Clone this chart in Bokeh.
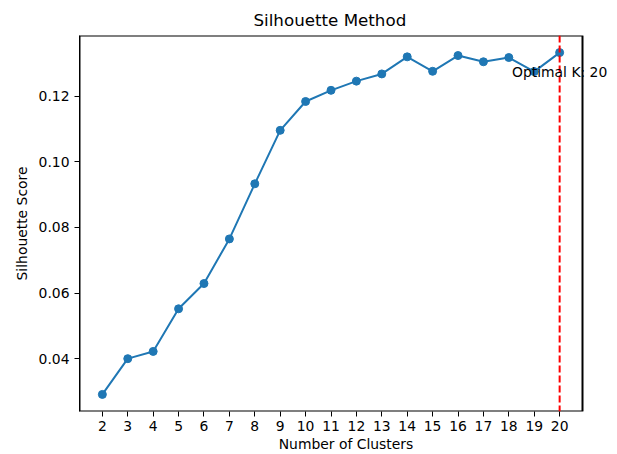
from bokeh.plotting import figure
from bokeh.models import Range1d, FixedTicker, NumeralTickFormatter, Span, Label, BoxAnnotation
from bokeh.embed import file_html
from bokeh.resources import INLINE

n_clusters = list(range(2, 21))
scores = [0.0291, 0.0400, 0.0422, 0.0552, 0.0629, 0.0765, 0.0933, 0.1096, 0.1184,
          0.1218, 0.1246, 0.1268, 0.1320, 0.1276, 0.1324, 0.1305, 0.1318, 0.1275, 0.1333]
y_ticks = [0.04, 0.06, 0.08, 0.10, 0.12]
optimal_k = 20
optimal_label = "Optimal K: 20"

FONT = "DejaVu Sans"
BLUE = "#1f77b4"
FS = "13.9px"

W, H = 617, 454
LEFT, RIGHT_AXES, RIGHT_FRAME, TOP, BOTTOM = 79, 35, 5, 35, 43

xspan = max(n_clusters) - min(n_clusters)
yspan = max(scores) - min(scores)
x_lo = min(n_clusters) - 0.05 * xspan
x_hi = max(n_clusters) + 0.05 * xspan
# frame is widened to the right so the annotation text is not clipped;
# keep the same scale as an axes box ending at x_hi
axes_px = W - LEFT - RIGHT_AXES
frame_px = W - LEFT - RIGHT_FRAME
x_end = x_lo + (x_hi - x_lo) * frame_px / axes_px

p = figure(width=W, height=H, output_backend="svg", toolbar_location=None,
           x_range=Range1d(x_lo, x_end),
           y_range=Range1d(min(scores) - 0.05 * yspan, max(scores) + 0.05 * yspan),
           min_border_left=LEFT, min_border_right=RIGHT_FRAME, min_border_top=TOP,
           min_border_bottom=BOTTOM, title="Silhouette Method")

# title centred over the axes box (not the widened frame)
p.title.align = "left"
p.title.offset = 174
p.title.text_font = FONT
p.title.text_font_size = "16.7px"
p.title.text_font_style = "normal"
p.title.text_color = "black"
p.title.standoff = 11

p.xgrid.visible = False
p.ygrid.visible = False
p.outline_line_color = None
p.background_fill_color = "white"
p.border_fill_color = "white"

for ax in (p.xaxis[0], p.yaxis[0]):
    ax.axis_line_color = "black"
    ax.major_tick_line_color = "black"
    ax.minor_tick_line_color = None
    ax.major_tick_in = 0
    ax.major_tick_out = 5
    ax.major_label_text_font = FONT
    ax.major_label_text_font_size = FS
    ax.major_label_text_color = "black"
    ax.axis_label_text_font = FONT
    ax.axis_label_text_font_size = FS
    ax.axis_label_text_font_style = "normal"
    ax.axis_label_text_color = "black"

p.xaxis.axis_line_color = None
p.xaxis.ticker = FixedTicker(ticks=n_clusters)
p.xaxis.axis_label = "Number of Clusters"
p.xaxis.major_label_standoff = 4
p.xaxis.axis_label_standoff = 2
p.yaxis.ticker = FixedTicker(ticks=y_ticks)
p.yaxis.formatter = NumeralTickFormatter(format="0.00")
p.yaxis.axis_label = "Silhouette Score"
p.yaxis.major_label_standoff = 5
p.yaxis.axis_label_standoff = 6

# axes box (spines) ending at x_hi
p.add_layout(BoxAnnotation(left=x_lo, right=x_hi, fill_color=None, fill_alpha=0,
                           line_color="black", line_alpha=1, line_width=2,
                           level="underlay"))

p.line(n_clusters, scores, line_color=BLUE, line_width=2)
p.scatter(n_clusters, scores, size=8, fill_color=BLUE, line_color=BLUE)

p.add_layout(Span(location=optimal_k, dimension="height", line_color="red",
                  line_dash="7 3", line_width=2))

best = scores[n_clusters.index(optimal_k)]
p.add_layout(Label(x=optimal_k, y=best, text=optimal_label, text_align="center",
                   text_baseline="middle", y_offset=-19, text_font=FONT,
                   text_font_size=FS, text_color="black", level="overlay"))

open("out.html", "w").write(file_html(p, INLINE))
